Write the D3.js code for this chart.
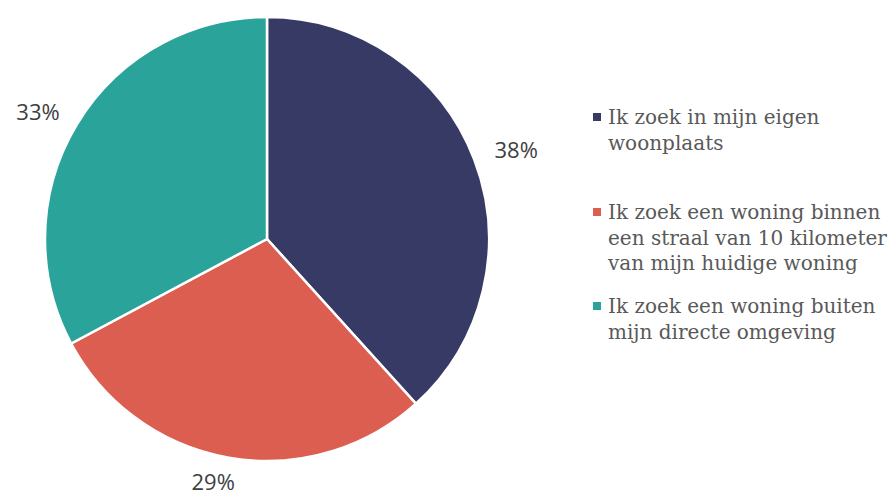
<!DOCTYPE html>
<html>
<head>
<meta charset="utf-8">
<script src="https://cdn.jsdelivr.net/npm/d3@7"></script>
<style>
  body { margin: 0; background: #fff; }
</style>
</head>
<body>
<div id="chart"></div>
<script>
var categories = [
    ["Ik zoek in mijn eigen", "woonplaats"],
    ["Ik zoek een woning binnen", "een straal van 10 kilometer", "van mijn huidige woning"],
    ["Ik zoek een woning buiten", "mijn directe omgeving"]
];
var values = [38.3, 28.9, 32.8];
var colors = ["#383a66", "#dc5e50", "#2aa39a"];

var width = 894, height = 495;
var cx = 267, cy = 239, radius = 222;

var svg = d3.select("#chart")
    .append("svg")
    .attr("width", width)
    .attr("height", height);

var g = svg.append("g")
    .attr("transform", "translate(" + cx + "," + cy + ")");

var pie = d3.pie().sort(null);
var arc = d3.arc().innerRadius(0).outerRadius(radius);

var arcs = pie(values);

g.selectAll(".slice")
    .data(arcs)
    .enter().append("path")
    .attr("class", "slice")
    .attr("d", arc)
    .style("fill", function(d, i) { return colors[i]; })
    .style("stroke", "#fff")
    .style("stroke-width", 2.5);

// labels sit outside the pie, a bit further out sideways than up/down
var labelRx = 267, labelRy = 247;
g.selectAll(".pct")
    .data(arcs)
    .enter().append("text")
    .attr("class", "pct")
    .attr("transform", function(d) {
        var a = (d.startAngle + d.endAngle) / 2;
        return "translate(" + (labelRx * Math.sin(a) - 8 * Math.abs(Math.cos(a)) * (Math.cos(a) < 0 ? 1 : 0)) + "," + (-labelRy * Math.cos(a)) + ")";
    })
    .attr("dy", "0.35em")
    .style("text-anchor", "middle")
    .style("font-family", "'Open Sans', sans-serif")
    .style("font-size", "22px")
    .style("fill", "#404040")
    .text(function(d) { return Math.round(d.data) + "%"; });

// legend
var legendTop = [124, 219, 313];
var lineH = 25.5;

var legend = svg.selectAll(".legend")
    .data(categories)
    .enter().append("g")
    .attr("class", "legend");

legend.append("rect")
    .attr("x", 593)
    .attr("y", function(d, i) { return legendTop[i] - 11; })
    .attr("width", 8)
    .attr("height", 8)
    .style("fill", function(d, i) { return colors[i]; });

legend.each(function(lines, i) {
    var t = d3.select(this).append("text")
        .style("font-family", "'DejaVu Serif', serif")
        .style("font-size", "20px")
        .style("fill", "#595959");
    lines.forEach(function(line, j) {
        t.append("tspan")
            .attr("x", 608)
            .attr("y", legendTop[i] + j * lineH)
            .text(line);
    });
});
</script>
</body>
</html>
